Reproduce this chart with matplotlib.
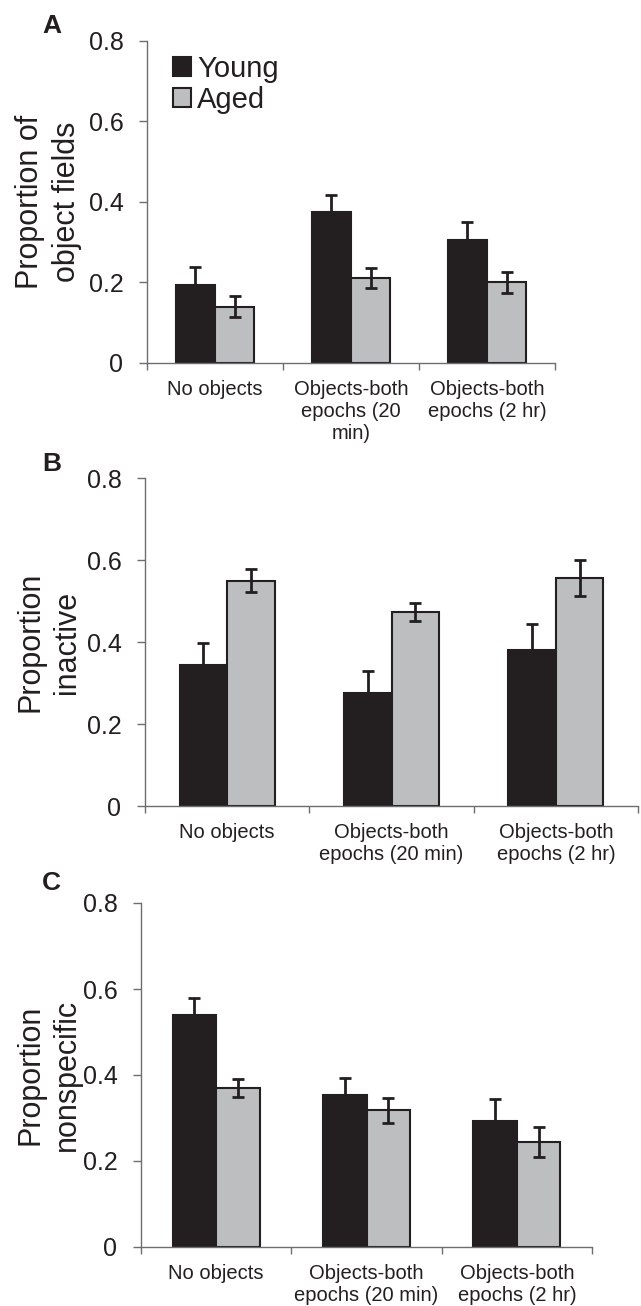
import matplotlib
matplotlib.use("Agg")
from matplotlib import pyplot as plt

plt.rcParams['font.family'] = ['Liberation Sans', 'DejaVu Sans']

# data
categories_a = ["No objects", "Objects-both\nepochs (20\nmin)", "Objects-both\nepochs (2 hr)"]
categories_bc = ["No objects", "Objects-both\nepochs (20 min)", "Objects-both\nepochs (2 hr)"]
yticks = [0, 0.2, 0.4, 0.6, 0.8]
ytick_labels = ["0", "0.2", "0.4", "0.6", "0.8"]

young_a = [0.194, 0.374, 0.306]
young_a_err = [0.044, 0.044, 0.044]
aged_a = [0.140, 0.211, 0.200]
aged_a_err = [0.027, 0.025, 0.026]

young_b = [0.344, 0.277, 0.382]
young_b_err = [0.053, 0.053, 0.062]
aged_b = [0.550, 0.474, 0.558]
aged_b_err = [0.028, 0.021, 0.044]

young_c = [0.539, 0.354, 0.294]
young_c_err = [0.039, 0.039, 0.050]
aged_c = [0.369, 0.318, 0.245]
aged_c_err = [0.021, 0.029, 0.035]

W, H = 641, 1306
DARK = '#231f20'
GREY = '#bcbec0'
AXC = '#6d6e71'


def box(left, right, top, bottom):
    return [left / W, 1 - bottom / H, (right - left) / W, (bottom - top) / H]


def panel(fig, pos, cats, young, young_err, aged, aged_err, ylabel, letter, letter_y, legend=False):
    ax = fig.add_axes(box(*pos))
    bw = 0.29
    x = [i + 0.5 for i in range(len(cats))]
    xy = [v - bw / 2 for v in x]
    xa = [v + bw / 2 for v in x]
    ax.bar(xy, young, bw, color=DARK, edgecolor=DARK, linewidth=1.5, label="Young", zorder=2)
    ax.bar(xa, aged, bw, color=GREY, edgecolor=DARK, linewidth=1.5, label="Aged", zorder=2)
    ax.errorbar(xy, young, yerr=young_err, fmt='none', ecolor=DARK, elinewidth=2,
                capsize=4.2, capthick=2, zorder=3)
    ax.errorbar(xa, aged, yerr=aged_err, fmt='none', ecolor=DARK, elinewidth=2,
                capsize=4.2, capthick=2, zorder=3)

    ax.set_xlim(0, len(cats))
    ax.set_ylim(0, 0.8)
    for s in ['top', 'right']:
        ax.spines[s].set_visible(False)
    for s in ['left', 'bottom']:
        ax.spines[s].set_color(AXC)
        ax.spines[s].set_linewidth(1.0)

    ax.set_yticks(yticks)
    ax.set_yticklabels(ytick_labels)
    ax.tick_params(axis='y', length=6, width=1, color=AXC, pad=11, labelsize=18, labelcolor=DARK)

    ax.set_xticks(range(len(cats) + 1))
    ax.set_xticklabels([])
    ax.tick_params(axis='x', which='major', length=5, width=1, color=AXC)
    ax.set_xticks(x, minor=True)
    ax.set_xticklabels(cats, minor=True, fontsize=14.5, color=DARK, linespacing=1.2)
    ax.tick_params(axis='x', which='minor', length=0, pad=12)

    yc = 1 - (pos[2] + pos[3]) / 2 / H
    fig.text(48.5 / W, yc, ylabel, rotation=90, ha='center', va='center',
             fontsize=22, color=DARK, linespacing=1.3)
    fig.text(42 / W, 1 - letter_y / H, letter, fontsize=19, fontweight='bold',
             color=DARK, ha='left', va='baseline')

    if legend:
        ax.legend(loc='upper left', bbox_to_anchor=(0.064, 0.956), frameon=False,
                  fontsize=21, handlelength=0.62, handleheight=0.6, handletextpad=0.2,
                  labelspacing=0.1, borderpad=0, borderaxespad=0, labelcolor=DARK)
    return ax


fig = plt.figure(figsize=(W / 100, H / 100), dpi=100)

panel(fig, (147, 555, 40.7, 363), categories_a, young_a, young_a_err, aged_a, aged_a_err,
      "Proportion of\nobject fields", "A", 33, legend=True)
panel(fig, (145, 638, 478.5, 806), categories_bc, young_b, young_b_err, aged_b, aged_b_err,
      "Proportion\ninactive", "B", 471)
panel(fig, (141, 592, 903, 1247), categories_bc, young_c, young_c_err, aged_c, aged_c_err,
      "Proportion\nnonspecific", "C", 890)

fig.savefig("out.png", dpi=100)
